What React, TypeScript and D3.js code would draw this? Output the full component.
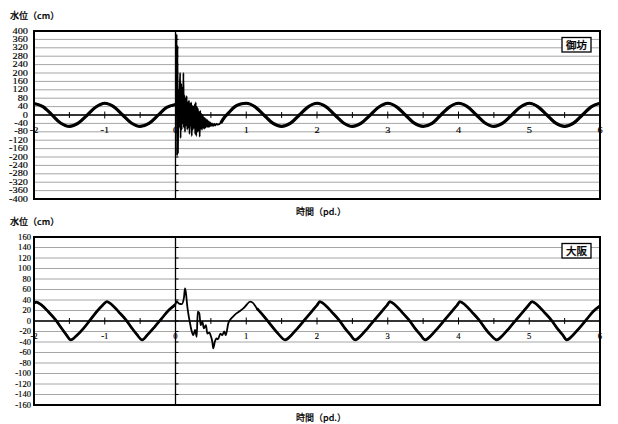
import React from "react";
import * as d3 from "d3";

const W = 618;
const H = 424;

const xTickLabels = [-2, -1, 0, 1, 2, 3, 4, 5, 6];
const xMinorTicks = [-1.5, -0.5, 0.5, 1.5, 2.5, 3.5, 4.5, 5.5];
const gobouYTicks = [400, 360, 320, 280, 240, 200, 160, 120, 80, 40, 0, -40, -80, -120, -160, -200, -240, -280, -320, -360, -400];
const osakaYTicks = [160, 140, 120, 100, 80, 60, 40, 20, 0, -20, -40, -60, -80, -100, -120, -140, -160];

// 御坊 (Gobo) water level [time pd., cm]
const gobouBefore: [number, number][] = [
  [-2, 55], [-1.875, 40], [-1.75, 2], [-1.625, -38], [-1.5, -54], [-1.375, -39], [-1.25, -1], [-1.125, 38],
  [-1, 56], [-0.875, 40], [-0.75, 1], [-0.625, -38], [-0.5, -54], [-0.375, -40], [-0.25, -2], [-0.125, 36], [0, 50],
];
const gobouTsunami: [number, number][] = [
  [0.008, 60], [0.016, 385], [0.022, -195], [0.028, 330], [0.034, -180], [0.04, 40], [0.046, 120], [0.052, -60],
  [0.06, 120], [0.066, 200], [0.072, -110], [0.08, 150], [0.088, -70], [0.096, 130], [0.104, -40], [0.112, 200],
  [0.118, -60], [0.126, 95], [0.134, -80], [0.142, 80], [0.15, -50], [0.158, 90], [0.166, -70], [0.174, 60],
  [0.182, -60], [0.19, 70], [0.198, -90], [0.206, 55], [0.214, -50], [0.222, 60], [0.23, -100], [0.238, 45],
  [0.246, -70], [0.254, 40], [0.262, -60], [0.27, 50], [0.278, -90], [0.286, 60], [0.294, -100], [0.302, 40],
  [0.31, -80], [0.318, 30], [0.326, -75], [0.334, 15], [0.342, -103], [0.35, 20], [0.358, -65], [0.366, 5],
  [0.374, -70], [0.382, 0], [0.39, -60], [0.398, -10], [0.406, -65], [0.414, -15], [0.422, -60], [0.43, -20],
  [0.44, -55], [0.45, -25], [0.46, -58], [0.47, -30], [0.48, -55], [0.49, -35], [0.5, -52], [0.515, -40],
  [0.53, -52], [0.545, -42], [0.56, -50], [0.58, -42], [0.6, -46],
];
const gobouAfter: [number, number][] = [
  [0.64, -38], [0.69, -12], [0.75, 10], [0.84, 40], [0.92, 52], [1, 56],
  [1.125, 39], [1.25, 0], [1.375, -39], [1.5, -54], [1.625, -39], [1.75, 0], [1.875, 39], [2, 56],
  [2.125, 40], [2.25, 1], [2.375, -38], [2.5, -54], [2.625, -39], [2.75, -1], [2.875, 38], [3, 56],
  [3.125, 39], [3.25, 0], [3.375, -39], [3.5, -54], [3.625, -40], [3.75, 0], [3.875, 39], [4, 56],
  [4.125, 40], [4.25, 1], [4.375, -38], [4.5, -54], [4.625, -39], [4.75, -1], [4.875, 38], [5, 56],
  [5.125, 39], [5.25, 0], [5.375, -39], [5.5, -54], [5.625, -39], [5.75, 0], [5.875, 39], [6, 56],
];

// 大阪 (Osaka) water level [time pd., cm]
const osakaBefore: [number, number][] = [
  [-2, 34], [-1.97, 36], [-1.9, 31], [-1.8, 18], [-1.7, 3], [-1.62, -12], [-1.55, -25], [-1.48, -36],
  [-1.4, -28], [-1.3, -14], [-1.2, 3], [-1.1, 20], [-1.03, 30], [-0.97, 37], [-0.9, 31], [-0.8, 17],
  [-0.7, 2], [-0.62, -13], [-0.55, -25], [-0.47, -36], [-0.4, -27], [-0.3, -12], [-0.2, 4], [-0.1, 20], [0, 32],
];
const osakaTsunami: [number, number][] = [
  [0.017, 37], [0.05, 33], [0.088, 32], [0.12, 45], [0.134, 62], [0.148, 53], [0.165, 30], [0.18, 15],
  [0.205, -4], [0.23, -20], [0.252, -27], [0.276, -17], [0.3, -30], [0.314, 18], [0.336, 15], [0.356, -8],
  [0.38, -1], [0.4, -14], [0.43, -8], [0.45, -24], [0.48, -22], [0.5, -29], [0.52, -39], [0.534, -52],
  [0.557, -39], [0.58, -33], [0.6, -35], [0.634, -24], [0.66, -27], [0.69, -20], [0.71, -27], [0.747, -4],
  [0.77, 2], [0.81, 8], [0.865, 15], [0.91, 19], [0.958, 24], [1.0, 30], [1.053, 37], [1.09, 35],
];
const osakaAfter: [number, number][] = [
  [1.15, 24], [1.25, 9], [1.35, -8], [1.45, -24], [1.55, -36], [1.63, -28], [1.73, -13], [1.83, 3], [1.93, 19], [2.0, 30],
  [2.04, 37], [2.11, 31], [2.21, 17], [2.31, 2], [2.39, -13], [2.47, -26], [2.54, -36], [2.62, -28], [2.72, -13], [2.82, 3], [2.92, 19], [2.99, 30],
  [3.03, 37], [3.1, 31], [3.2, 17], [3.3, 2], [3.38, -13], [3.46, -26], [3.53, -36], [3.61, -28], [3.71, -13], [3.81, 3], [3.91, 19], [3.98, 30],
  [4.02, 37], [4.09, 31], [4.19, 17], [4.29, 2], [4.37, -13], [4.45, -26], [4.54, -36], [4.62, -28], [4.72, -13], [4.82, 3], [4.92, 19], [4.99, 30],
  [5.04, 37], [5.11, 31], [5.21, 17], [5.31, 2], [5.39, -13], [5.47, -26], [5.53, -36], [5.61, -28], [5.71, -13], [5.81, 3], [5.91, 19], [6.0, 29],
];

const SERIF = "'Liberation Serif', 'DejaVu Serif', serif";
const JP = "'Noto Sans CJK JP', 'Noto Sans', sans-serif";

type PanelProps = {
  top: number;
  bottom: number;
  yTicks: number[];
  before: [number, number][];
  tsunami: [number, number][];
  after: [number, number][];
  name: string;
  thick: number;
  labelScale: [number, number];
  labelRight: number;
};

function Panel(p: PanelProps) {
  const left = 34;
  const right = 600;
  const x = d3.scaleLinear().domain([-2, 6]).range([left, right]);
  const yMax = d3.max(p.yTicks) as number;
  const y = d3.scaleLinear().domain([-yMax, yMax]).range([p.bottom, p.top]);
  const line = d3
    .line<[number, number]>()
    .x((d) => x(d[0]))
    .y((d) => y(d[1]))
    .curve(d3.curveMonotoneX);
  const all = [...p.before, ...p.tsunami, ...p.after];
  const y0 = y(0);
  const x0 = x(0);
  const midX = (left + right) / 2 + 4;
  return (
    <g>
      {p.yTicks.map((v) => (
        <line key={"g" + v} x1={left} x2={right} y1={y(v)} y2={y(v)} stroke="#a6a6a6" strokeWidth={1} />
      ))}
      {p.yTicks.map((v) => (
        <text
          key={"yl" + v}
          transform={`translate(${p.labelRight},${y(v)}) scale(${p.labelScale[0]},${p.labelScale[1]})`}
          textAnchor="end"
          dy="0.35em"
          fontFamily={SERIF}
          fontSize={8.6}
          fill="#000"
          stroke="#000"
          strokeWidth={0.15}
        >
          {v}
        </text>
      ))}
      {/* y axis at x = 0 */}
      <line x1={x0} x2={x0} y1={p.top} y2={p.bottom} stroke="#000" strokeWidth={1.3} />
      {p.yTicks.map((v) => (
        <line key={"yt" + v} x1={x0} x2={x0 + 3} y1={y(v)} y2={y(v)} stroke="#000" strokeWidth={1} />
      ))}
      {/* x axis at y = 0 */}
      <line x1={left} x2={right} y1={y0} y2={y0} stroke="#000" strokeWidth={1.3} />
      {xTickLabels.map((t) => (
        <line key={"xt" + t} x1={x(t)} x2={x(t)} y1={y0 - 3.5} y2={y0 + 3.5} stroke="#000" strokeWidth={1} />
      ))}
      {xMinorTicks.map((t) => (
        <line key={"xm" + t} x1={x(t)} x2={x(t)} y1={y0 - 3} y2={y0 + 3} stroke="#000" strokeWidth={1} />
      ))}
      {xTickLabels.map((t) => (
        <text
          key={"xl" + t}
          transform={`translate(${x(t)},${y0 + 15}) scale(${p.labelScale[0]},${p.labelScale[1]})`}
          textAnchor="middle"
          dy="0.35em"
          fontFamily={SERIF}
          fontSize={8.6}
          fill="#000"
          stroke="#000"
          strokeWidth={0.15}
        >
          {t}
        </text>
      ))}
      {/* series */}
      <path d={line(all) || ""} fill="none" stroke="#000" strokeWidth={1.8} strokeLinejoin="round" />
      <path d={line(p.before) || ""} fill="none" stroke="#000" strokeWidth={p.thick} strokeLinejoin="round" />
      <path d={line(p.after) || ""} fill="none" stroke="#000" strokeWidth={p.thick} strokeLinejoin="round" />
      {/* frame */}
      <rect x={left} y={p.top} width={right - left} height={p.bottom - p.top} fill="none" stroke="#000" strokeWidth={2} />
      {/* name box */}
      <rect x={562} y={p.top + 6.5} width={29} height={14.5} fill="#fff" stroke="#000" strokeWidth={1.3} />
      <text x={576.5} y={p.top + 13.75} dy="0.36em" textAnchor="middle" fontFamily={JP} fontWeight={500} fontSize={10.5} fill="#000" stroke="#000" strokeWidth={0.25}>
        {p.name}
      </text>
      {/* labels */}
      <text x={10} y={p.top - 12} fontFamily={JP} fontWeight={500} fontSize={9} fill="#000" stroke="#000" strokeWidth={0.2}>
        水位（cm）
      </text>
      <text x={midX} y={p.bottom + 15.5} textAnchor="middle" fontFamily={JP} fontWeight={500} fontSize={9} fill="#000" stroke="#000" strokeWidth={0.15}>
        時間（pd.）
      </text>
    </g>
  );
}

export default function App() {
  return (
    <svg
      width={W}
      height={H}
      viewBox={`0 0 ${W} ${H}`}
      style={{ position: "absolute", left: 0, top: 0, background: "#fff" }}
    >
      <rect x={0} y={0} width={W} height={H} fill="#fff" />
      <Panel
        top={31}
        bottom={199}
        yTicks={gobouYTicks}
        before={gobouBefore}
        tsunami={gobouTsunami}
        after={gobouAfter}
        name="御坊"
        thick={3.2}
        labelScale={[1.2, 0.86]}
        labelRight={28}
      />
      <Panel
        top={237}
        bottom={405}
        yTicks={osakaYTicks}
        before={osakaBefore}
        tsunami={osakaTsunami}
        after={osakaAfter}
        name="大阪"
        thick={2.7}
        labelScale={[1.0, 0.98]}
        labelRight={31}
      />
    </svg>
  );
}
